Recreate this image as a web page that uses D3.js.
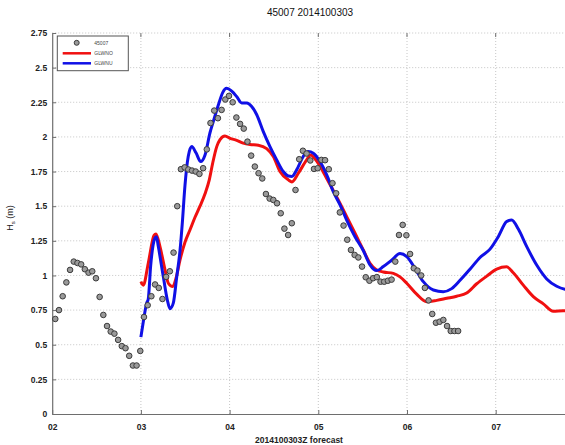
<!DOCTYPE html>
<html>
<head>
<meta charset="utf-8">
<script src="https://cdn.jsdelivr.net/npm/d3@7"></script>
<style>
  body { margin: 0; background: #fff; }
  text { font-family: Arial, "Liberation Sans", sans-serif; }
</style>
</head>
<body>
<div id="chart"></div>
<script>

// Buoy 45007 wave height vs two model runs

const width = 565;
const height = 445;
const margin = {left: 52.2, top: 33, bottom: 31};

// observed Hs, hourly (hour since 02 00Z), value in m
const obsHours = [0,1,2,3,4,5,6,7,8,9,10,11,12,13,14,15,16,17,18,19,20,21,22,23,
  24,25,26,27,28,29,30,31,32,33,34,35,36,37,38,39,40,41,42,43,44,45,46,47,48,49,
  50,51,52,53,54,55,56,57,58,59,60,61,62,63,64,65,66,67,68,69,70,71,72,73,74,75,
  76,77,78,79,80,81,82,83,84,85,86,87,88,89,90,91,92,93,94,95,96,97,98,99,100,
  101,102,103,104,105,106,107,108,109];
const obsHs = [0.686,0.75,0.85,0.95,1.04,1.10,1.09,1.08,1.045,1.02,1.03,0.98,0.845,
  0.715,0.635,0.595,0.58,0.535,0.49,0.475,0.42,0.35,0.35,0.455,
  0.70,0.785,0.85,0.935,0.91,0.83,0.99,1.03,1.165,1.50,1.767,1.78,1.765,1.757,
  1.75,1.733,1.774,1.91,2.10,2.19,2.135,2.195,2.27,2.296,2.25,2.14,2.094,2.06,
  1.966,1.865,1.786,1.738,1.70,1.588,1.555,1.545,1.521,1.449,1.338,1.292,1.377,
  1.617,1.839,1.90,1.88,1.83,1.769,1.774,1.834,1.832,1.767,1.666,1.593,1.455,
  1.36,1.258,1.184,1.148,1.13,1.064,0.987,0.962,0.98,0.988,0.955,0.955,0.962,
  0.97,1.10,1.292,1.365,1.29,1.155,1.052,1.035,1.0,0.91,0.82,0.722,0.659,0.666,
  0.679,0.635,0.599,0.599,0.599];
// buoy reports at hh:50
const obsMinute = 50;

// model runs (day of month, Hs in m)
const redDays = [3.00,3.027,3.083,3.148,3.170,3.215,3.272,3.309,3.359,3.396,3.441,
  3.497,3.554,3.610,3.666,3.723,3.771,3.809,3.855,3.892,3.948,4.005,4.080,4.154,
  4.230,4.324,4.418,4.493,4.568,4.662,4.703,4.775,4.869,4.914,4.982,5.095,5.225,
  5.320,5.414,5.507,5.583,5.658,5.733,5.846,5.921,5.997,6.109,6.222,6.335,6.448,
  6.560,6.673,6.786,6.899,7.011,7.124,7.198,7.311,7.424,7.537,7.649,7.762,7.838];
const redHs = [0.955,0.93,1.088,1.29,1.30,1.208,1.04,0.944,0.92,0.98,1.112,
  1.24,1.33,1.42,1.50,1.59,1.69,1.81,1.93,1.98,2.007,1.99,1.975,1.955,
  1.945,1.94,1.915,1.858,1.75,1.69,1.675,1.738,1.834,1.87,1.825,1.70,1.545,
  1.425,1.305,1.184,1.088,1.04,1.025,1.015,0.99,0.944,0.865,0.81,0.82,0.835,
  0.85,0.873,0.94,0.995,1.045,1.062,1.02,0.93,0.847,0.795,0.742,0.746,0.746];

const blueDays = [3.00,3.027,3.065,3.083,3.110,3.159,3.176,3.196,3.253,3.298,3.328,
  3.365,3.404,3.441,3.467,3.497,3.534,3.573,3.621,3.674,3.723,3.779,3.816,3.873,
  3.922,3.967,4.024,4.080,4.136,4.193,4.249,4.306,4.380,4.455,4.531,4.605,4.662,
  4.703,4.756,4.831,4.887,4.944,5.019,5.095,5.169,5.245,5.320,5.414,5.507,5.583,
  5.658,5.733,5.827,5.921,5.997,6.090,6.184,6.297,6.409,6.504,6.598,6.710,6.823,
  6.936,7.029,7.124,7.180,7.255,7.350,7.462,7.575,7.688,7.781,7.838];
const blueHs = [0.555,0.666,0.80,0.83,1.07,1.27,1.28,1.21,0.99,0.823,0.76,
  0.80,0.99,1.18,1.38,1.65,1.86,1.93,1.885,1.822,1.87,2.03,2.11,2.23,
  2.32,2.351,2.33,2.291,2.245,2.245,2.219,2.16,2.038,1.93,1.834,1.75,1.718,
  1.715,1.762,1.86,1.894,1.882,1.822,1.726,1.605,1.51,1.40,1.28,1.18,1.076,
  1.035,1.064,1.11,1.158,1.136,1.052,0.955,0.895,0.883,0.905,0.965,1.045,1.13,
  1.19,1.28,1.389,1.401,1.335,1.208,1.075,0.975,0.922,0.90,0.895];

// axis ticks
const xTickDays = [2, 3, 4, 5, 6, 7];
const xTickLabels = ["02", "03", "04", "05", "06", "07"];
const yTicks = [0, 0.25, 0.5, 0.75, 1, 1.25, 1.5, 1.75, 2, 2.25, 2.5, 2.75];

const legendNames = ["45007", "GLWNO", "GLWNU"];

const svg = d3.select("#chart")
  .append("svg")
  .attr("width", width)
  .attr("height", height);

// the figure is cut on the right, so the axes run past the page edge
const xScale = d3.scaleLinear()
  .domain([2, 7.85])
  .range([margin.left, margin.left + 5.85 * 88.7]);

const yScale = d3.scaleLinear()
  .domain([0, 2.75])
  .range([height - margin.bottom, margin.top]);

const x0 = margin.left, x1 = xScale.range()[1];
const y0 = yScale(0), y1 = yScale(2.75);

/*
  grid
*/
svg.append("g")
  .selectAll("line")
  .data(yTicks.slice(1))
  .join("line")
    .attr("x1", x0).attr("x2", x1)
    .attr("y1", d => yScale(d)).attr("y2", d => yScale(d))
    .attr("stroke", "#b8b8b8")
    .attr("stroke-width", 0.8)
    .attr("stroke-dasharray", "1,2");

svg.append("g")
  .selectAll("line")
  .data(xTickDays.slice(1))
  .join("line")
    .attr("x1", d => xScale(d)).attr("x2", d => xScale(d))
    .attr("y1", y0).attr("y2", y1)
    .attr("stroke", "#b8b8b8")
    .attr("stroke-width", 0.8)
    .attr("stroke-dasharray", "1,2");

/*
  axes
*/
const yAxis = svg.append("g")
  .attr("transform", `translate(${x0},0)`)
  .call(d3.axisLeft(yScale)
    .tickValues(yTicks)
    .tickSizeInner(-4)
    .tickSizeOuter(0)
    .tickPadding(5)
    .tickFormat(d => String(+d.toFixed(2))));

const xAxis = svg.append("g")
  .attr("transform", `translate(0,${y0})`)
  .call(d3.axisBottom(xScale)
    .tickValues(xTickDays)
    .tickSizeInner(-4)
    .tickSizeOuter(0)
    .tickPadding(10)
    .tickFormat((d, i) => xTickLabels[i]));

[yAxis, xAxis].forEach(g => {
  g.select(".domain").attr("stroke", "#6e6e6e").attr("stroke-width", 1.2);
  g.selectAll(".tick line").attr("stroke", "#6e6e6e");
  g.selectAll(".tick text")
    .attr("fill", "#222")
    .attr("font-size", "8.5px")
    .attr("font-weight", "bold")
    .attr("font-family", "Arial, 'Liberation Sans', sans-serif");
});

// small ticks along the top edge
svg.append("g")
  .selectAll("line")
  .data(xTickDays.slice(1))
  .join("line")
    .attr("x1", d => xScale(d)).attr("x2", d => xScale(d))
    .attr("y1", y1).attr("y2", y1 + 4)
    .attr("stroke", "#6e6e6e");

/*
  model lines
*/
const redData = redDays.map((d, i) => ({day: d, hs: redHs[i]}));
const blueData = blueDays.map((d, i) => ({day: d, hs: blueHs[i]}));

const line = d3.line()
  .x(d => xScale(d.day))
  .y(d => yScale(d.hs))
  .curve(d3.curveMonotoneX);

svg.append("path")
  .datum(redData)
  .attr("fill", "none")
  .attr("stroke", "#f01010")
  .attr("stroke-width", 3)
  .attr("stroke-linejoin", "round")
  .attr("d", line);

svg.append("path")
  .datum(blueData)
  .attr("fill", "none")
  .attr("stroke", "#1010e6")
  .attr("stroke-width", 3)
  .attr("stroke-linejoin", "round")
  .attr("d", line);

/*
  observations
*/
const obsData = obsHours.map((h, i) => ({day: 2 + (h + obsMinute / 60) / 24, hs: obsHs[i]}));

svg.append("g")
  .selectAll("circle")
  .data(obsData)
  .join("circle")
    .attr("cx", d => xScale(d.day))
    .attr("cy", d => yScale(d.hs))
    .attr("r", 2.8)
    .attr("fill", "#9a9a9a")
    .attr("stroke", "#3c3c3c")
    .attr("stroke-width", 1);

/*
  legend
*/
const legend = svg.append("g").attr("transform", "translate(57.3,36)");
legend.append("rect")
  .attr("width", 71)
  .attr("height", 34.7)
  .attr("fill", "#fff")
  .attr("stroke", "#555")
  .attr("stroke-width", 1);

legend.append("circle")
  .attr("cx", 19.4).attr("cy", 6.8).attr("r", 2.5)
  .attr("fill", "#9a9a9a").attr("stroke", "#3c3c3c");
legend.append("line")
  .attr("x1", 5.4).attr("x2", 33.7).attr("y1", 17.3).attr("y2", 17.3)
  .attr("stroke", "#f01010").attr("stroke-width", 2.5);
legend.append("line")
  .attr("x1", 5.4).attr("x2", 33.7).attr("y1", 27.3).attr("y2", 27.3)
  .attr("stroke", "#1010e6").attr("stroke-width", 2.5);

legend.selectAll("text.lab")
  .data(legendNames)
  .join("text")
    .attr("class", "lab")
    .attr("x", 37)
    .attr("y", (d, i) => 8.8 + i * 10.2)
    .attr("font-size", "5px")
    .attr("fill", "#444")
    .text(d => d);

/*
  titles
*/
svg.append("text")
  .attr("x", 310)
  .attr("y", 16)
  .attr("text-anchor", "middle")
  .attr("font-size", "10px")
  .attr("fill", "#111")
  .text("45007 2014100303");

svg.append("text")
  .attr("x", 299)
  .attr("y", 443)
  .attr("text-anchor", "middle")
  .attr("font-size", "8.5px")
  .attr("font-weight", "bold")
  .attr("fill", "#222")
  .text("2014100303Z forecast");

const ylab = svg.append("text")
  .attr("transform", "translate(13,218) rotate(-90)")
  .attr("text-anchor", "middle")
  .attr("font-size", "9px")
  .attr("fill", "#222");
ylab.append("tspan").text("H");
ylab.append("tspan").attr("font-size", "6px").attr("dy", 2).text("s");
ylab.append("tspan").attr("dy", -2).text(" (m)");

</script>
</body>
</html>
